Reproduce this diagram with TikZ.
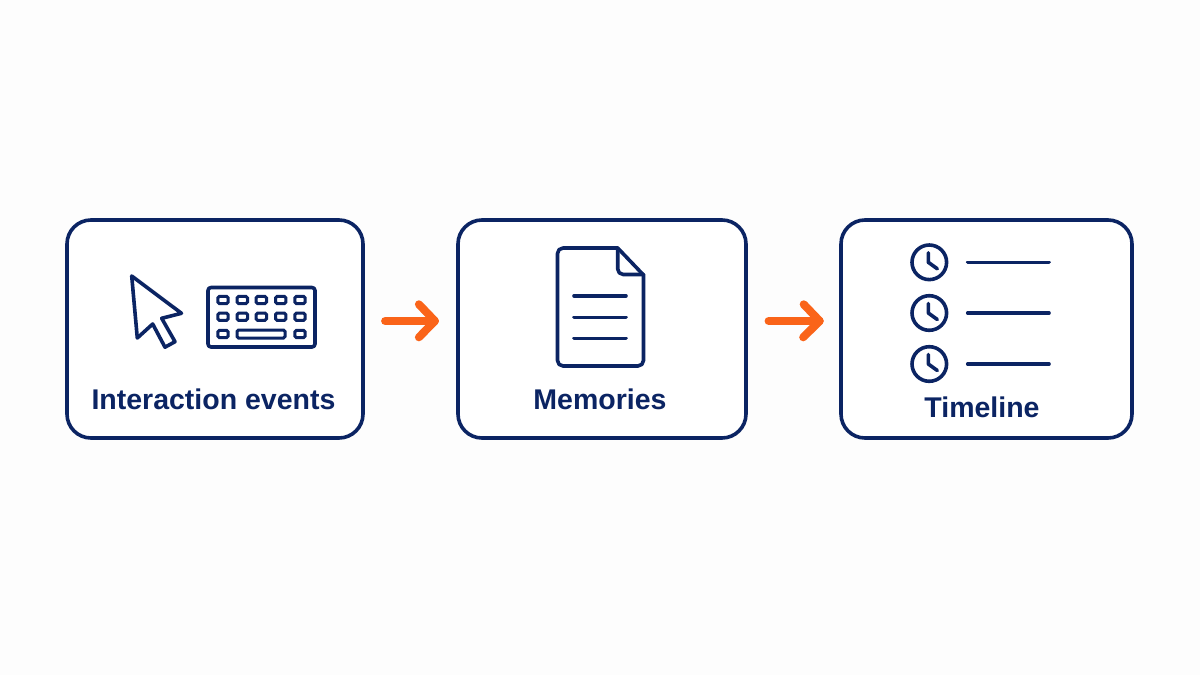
\documentclass[tikz,border=0pt]{standalone}
\usepackage{fontspec}
\setmainfont{Liberation Sans}
\definecolor{navy}{HTML}{0B2463}
\definecolor{orng}{HTML}{FA6419}
\definecolor{bg}{HTML}{FDFDFD}
\tikzset{
  card/.style={draw=navy,line width=3.6pt,rounded corners=24pt,fill=white,inner sep=0pt},
  lab/.style={text=navy,font=\fontsize{28.5pt}{30pt}\selectfont\bfseries,anchor=base,inner sep=0pt},
  ico/.style={draw=navy,line width=3.6pt,line join=round,line cap=round},
  thin/.style={draw=navy,line width=3pt,rounded corners=1.5pt},
  flow/.style={draw=orng,line width=8pt,line cap=round,line join=round},
}
\newcommand{\keycap}[2]{\draw[thin] (#1-5.2,#2-3.6) rectangle (#1+5.2,#2+3.6);}
\begin{document}
\begin{tikzpicture}[x=1pt,y=-1pt]
\useasboundingbox (0,0) rectangle (1200,675);
\fill[bg] (0,0) rectangle (1200,675);
\node[card,minimum width=296pt,minimum height=218pt] (a) at (215,329) {};
\node[card,minimum width=288pt,minimum height=218pt] (b) at (602,329) {};
\node[card,minimum width=291pt,minimum height=218pt] (c) at (986.5,329) {};
\node[lab] (la) at (213.5,409) {Interaction events};
\node[lab] (lb) at (600,409) {Memories};
\node[lab] (lc) at (982,417) {Timeline};
% cursor
\draw[ico] (131.7,276) -- (181.5,313.3) -- (161.7,318.3) -- (175,341.7) -- (165,347.2) -- (152.7,324) -- (137.3,338) -- cycle;
% keyboard
\draw[ico,rounded corners=3pt] (208,287.5) rectangle (315,347);
\foreach \y in {300,316.7}{\foreach \x in {223,242.3,261.3,280.7,300}{\keycap{\x}{\y}}}
\keycap{223}{334}\keycap{300}{334}
\draw[thin] (237,330) rectangle (285,338);
% document
\draw[ico] (617.7,248) -- (563,248) arc[start angle=-90,end angle=-180,radius=5.5] -- (557.5,360.5) arc[start angle=180,end angle=90,radius=5.5] -- (638,366) arc[start angle=90,end angle=0,radius=5.5] -- (643.5,275) -- cycle;
\draw[ico] (617.7,248) -- (617.7,269) arc[start angle=180,end angle=90,radius=5.5] -- (643.5,274.5);
\foreach \y in {295.7,317.3,338.3}{\draw[ico] (574,\y) -- (626,\y);}
% timeline
\foreach \y in {262.3,313,364}{
  \draw[ico] (929.3,\y) circle[radius=17.3];
  \draw[ico] (928.3,\y-9.5) -- (928.3,\y) -- (937.3,\y+6.5);
  \draw[ico] (967.7,\y) -- (1049,\y);
}
% arrows, from card to card
\coordinate (s1) at ([xshift=20.3pt,yshift=8pt]a.east);
\coordinate (t1) at ([xshift=-21.3pt,yshift=8pt]b.west);
\coordinate (s2) at ([xshift=20.8pt,yshift=8pt]b.east);
\coordinate (t2) at ([xshift=-19.5pt,yshift=8pt]c.west);
\draw[flow] (s1) -- (t1);
\draw[flow] ([xshift=-16pt,yshift=16.7pt]t1) -- (t1) -- ([xshift=-16pt,yshift=-16.3pt]t1);
\draw[flow] (s2) -- (t2);
\draw[flow] ([xshift=-16pt,yshift=16.7pt]t2) -- (t2) -- ([xshift=-16.5pt,yshift=-16.3pt]t2);
\end{tikzpicture}
\end{document}
